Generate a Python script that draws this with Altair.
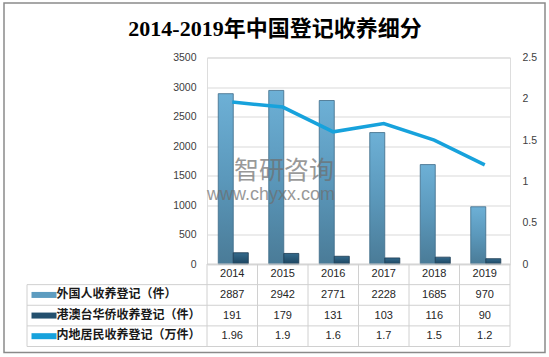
import altair as alt
import pandas as pd

# ---------------- data ----------------
years = ["2014", "2015", "2016", "2017", "2018", "2019"]
foreign = [2887, 2942, 2771, 2228, 1685, 970]
hk_macao_tw = [191, 179, 131, 103, 116, 90]
mainland = [1.96, 1.9, 1.6, 1.7, 1.5, 1.2]
series_names = ["外国人收养登记（件）", "港澳台华侨收养登记（件）", "内地居民收养登记（万件）"]
title_text = ["2014-2019年中国登记收养细分"]
left_ticks = [0, 500, 1000, 1500, 2000, 2500, 3000, 3500]
right_ticks = [0, 0.5, 1, 1.5, 2, 2.5]
watermark_name = ["智研咨询"]
watermark_url = ["www.chyxx.com"]

# ---------------- tables built from the arrays ----------------
df_f = pd.DataFrame({"year": years, "series": series_names[0], "value": foreign})
df_h = pd.DataFrame({"year": years, "series": series_names[1], "value": hk_macao_tw})
df_m = pd.DataFrame({"year": years, "series": series_names[2], "value": mainland})

rows = []
for i, y in enumerate(years):
    rows.append({"year": y, "row": 0.5, "label": y})
    rows.append({"year": y, "row": 1.5, "label": str(foreign[i])})
    rows.append({"year": y, "row": 2.5, "label": str(hk_macao_tw[i])})
    rows.append({"year": y, "row": 3.5, "label": str(mainland[i])})
df_table = pd.DataFrame(rows)
df_legend = pd.DataFrame({"series": series_names, "row": [1.5, 2.5, 3.5]})
df_hlines = pd.DataFrame({"k": [1, 2, 3, 4]})
df_top = pd.DataFrame({"k": [0]})
df_vlines = pd.DataFrame({"year": years, "y0": 0, "y1": 4})
df_vlast = pd.DataFrame({"year": [years[-1]], "y0": [0], "y1": [4]})
df_vleft = pd.DataFrame({"y0": [1], "y1": [4]})
df_title = pd.DataFrame({"t": title_text})
df_wm1 = pd.DataFrame({"t": watermark_name})
df_wm2 = pd.DataFrame({"t": watermark_url})
df_one = pd.DataFrame({"a": [0]})

W, H = 303, 206.5
FONT = "Liberation Sans"
CJK = "Noto Sans CJK SC"

xscale = alt.Scale(type="band", domain=years, paddingInner=0, paddingOuter=0)
offscale = alt.Scale(domain=series_names[:2], paddingInner=0, paddingOuter=0.68, align=0.55)
yscale_left = alt.Scale(domain=[0, 3500], nice=False)
yscale_right = alt.Scale(domain=[0, 2.5], nice=False)
tscale = alt.Scale(domain=[0, 4], range=[206.5, 289], nice=False, zero=False)

grad_f = alt.Gradient(gradient="linear", x1=0, x2=0, y1=0, y2=1,
                      stops=[alt.GradientStop(color="#6db0d6", offset=0),
                             alt.GradientStop(color="#5b98bb", offset=0.5),
                             alt.GradientStop(color="#4a7b97", offset=1)])
grad_h = alt.Gradient(gradient="linear", x1=0, x2=0, y1=0, y2=1,
                      stops=[alt.GradientStop(color="#346a8c", offset=0),
                             alt.GradientStop(color="#1c4560", offset=1)])

X = alt.X("year:N", scale=xscale, axis=None)

bars_f = alt.Chart(df_f).mark_bar(color=grad_f, stroke="#3d6b88", strokeWidth=0.8).encode(
    x=X,
    xOffset=alt.XOffset("series:N", scale=offscale),
    y=alt.Y("value:Q", scale=yscale_left, stack=None,
            axis=alt.Axis(values=left_ticks, format="d", title=None, grid=True,
                          gridColor="#d9d9d9", gridWidth=1, ticks=False, domain=False,
                          labelPadding=11, labelFont=FONT, labelFontSize=10.5,
                          labelColor="#404040")),
)
bars_h = alt.Chart(df_h).mark_bar(color=grad_h, stroke="#1b3a50", strokeWidth=0.8).encode(
    x=X,
    xOffset=alt.XOffset("series:N", scale=offscale),
    y=alt.Y("value:Q", scale=yscale_left, stack=None, axis=None),
)
line = alt.Chart(df_m).mark_line(color="#17a2dc", strokeWidth=3.5).encode(
    x=X,
    y=alt.Y("value:Q", scale=yscale_right,
            axis=alt.Axis(orient="right", values=right_ticks, format="~g", title=None,
                          grid=False, ticks=False, domain=False, labelPadding=12,
                          labelFont=FONT, labelFontSize=10.5, labelColor="#404040")),
)

TY = lambda f: alt.Y(f, scale=tscale, axis=None)

table_text = alt.Chart(df_table).mark_text(font=FONT, fontSize=11, color="#262626",
                                           baseline="middle").encode(
    x=X, y=TY("row:Q"), text="label:N")

rule_style = dict(color="#d0d0d0", strokeWidth=1)
top_rule = alt.Chart(df_top).mark_rule(**rule_style).encode(y=TY("k:Q"))
h_rules = alt.Chart(df_hlines).mark_rule(**rule_style).encode(
    x=alt.value(-180), x2=alt.value("width"), y=TY("k:Q"))
v_rules = alt.Chart(df_vlines).mark_rule(**rule_style).encode(
    x=alt.X("year:N", scale=xscale, axis=None, bandPosition=0),
    y=TY("y0:Q"), y2="y1:Q")
v_last = alt.Chart(df_vlast).mark_rule(**rule_style).encode(
    x=alt.X("year:N", scale=xscale, axis=None, bandPosition=1),
    y=TY("y0:Q"), y2="y1:Q")
v_left = alt.Chart(df_vleft).mark_rule(**rule_style).encode(
    x=alt.value(-180), y=TY("y0:Q"), y2="y1:Q")

swatches = alt.Chart(df_legend).mark_rule(strokeCap="butt").encode(
    x=alt.value(-175.5), x2=alt.value(-150.5),
    y=TY("row:Q"),
    color=alt.Color("series:N", legend=None,
                    scale=alt.Scale(domain=series_names, range=["#5d9cc0", "#23506e", "#17a2dc"])),
    strokeWidth=alt.StrokeWidth("series:N", legend=None,
                                scale=alt.Scale(domain=series_names, range=[6, 6, 3])),
)
row_labels = alt.Chart(df_legend).mark_text(font=CJK, fontSize=12, fontWeight="bold",
                                            color="#1a1a1a", align="left",
                                            baseline="middle", dy=-1).encode(
    x=alt.value(-150.5), y=TY("row:Q"), text="series:N")

title = alt.Chart(df_title).mark_text(font="Liberation Serif, " + CJK, fontSize=22,
                                      fontWeight="bold", color="#000000",
                                      align="center", baseline="alphabetic").encode(
    x=alt.value(68), y=alt.value(-21.5), text="t:N")

wm1 = alt.Chart(df_wm1).mark_text(font=CJK, fontSize=25, color="#6e6e6e", opacity=0.7,
                                  align="left", baseline="alphabetic").encode(
    x=alt.value(27), y=alt.value(121), text="t:N")
wm2 = alt.Chart(df_wm2).mark_text(font=FONT, fontSize=18, color="#6e6e6e", opacity=0.7,
                                  align="left", baseline="alphabetic").encode(
    x=alt.value(0), y=alt.value(142.5), text="t:N")

border = alt.Chart(df_one).mark_rect(fillOpacity=0, stroke="#8a8a8a", strokeWidth=1.5).encode(
    x=alt.value(-203), x2=alt.value(338), y=alt.value(-54.5), y2=alt.value(295))

chart = alt.layer(
    bars_f, bars_h, wm1, wm2, line,
    top_rule, h_rules, v_rules, v_last, v_left,
    table_text, swatches, row_labels, title, border,
).resolve_scale(y="independent").properties(
    width=W, height=H,
    autosize=alt.AutoSizeParams(type="none"),
    padding={"left": 207, "top": 57.5, "right": 39, "bottom": 93},
).configure_view(stroke=None).configure(background="#ffffff")

chart.save("out.html", embed_options={"renderer": "svg", "actions": False})
